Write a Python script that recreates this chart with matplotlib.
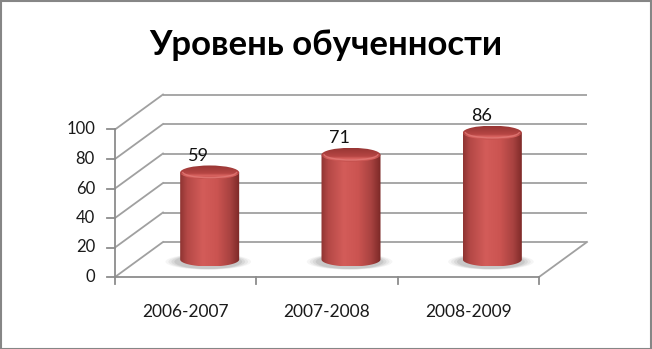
import numpy as np
import matplotlib
matplotlib.use('Agg')
import matplotlib.pyplot as plt
from matplotlib.patches import Ellipse, Polygon, Rectangle, Arc
from matplotlib.colors import LinearSegmentedColormap
from matplotlib.transforms import offset_copy

categories = ['2006-2007', '2007-2008', '2008-2009']
values = [59, 71, 86]
y_ticks = [0, 20, 40, 60, 80, 100]
y_tick_labels = ['0', '20', '40', '60', '80', '100']
title = 'Уровень обученности'

FONT = ['Lato', 'Open Sans', 'DejaVu Sans']

fig = plt.figure(figsize=(6.52, 3.49), dpi=100)
fig.patch.set_facecolor('white')
# axes = middle depth plane of the 3D box
ax = fig.add_axes([139 / 652, (349 - 259.5) / 349, 424 / 652, 147.5 / 349])
ax.set_xlim(-0.5, len(categories) - 0.5)
ax.set_ylim(0, 100)
ax.axis('off')

# depth half-vector (pixels -> data units)
DX, DY = 24, 17.5
inv = ax.transData.inverted()
o = ax.transData.transform((0, 0))
ddx, ddy = inv.transform(o + np.array([DX, DY])) - inv.transform(o)
sx, sy = ddx / DX, ddy / DY  # data units per pixel

x0, x1 = -0.5, len(categories) - 0.5
gc = '#a0a0a0'
ac = '#8c8c8c'
lw = 1.3

# back wall gridlines and left side wall lines
for v in y_ticks:
    ax.plot([x0 + ddx, x1 + ddx], [v + ddy, v + ddy], color=gc, lw=lw, clip_on=False, zorder=1,
            solid_capstyle='butt')
    ax.plot([x0 - ddx, x0 + ddx], [v - ddy, v + ddy], color=gc, lw=lw, clip_on=False, zorder=1)
# floor right edge
ax.plot([x1 - ddx, x1 + ddx], [0 - ddy, 0 + ddy], color=gc, lw=lw, clip_on=False, zorder=1)

# front axes
ax.plot([x0 - ddx, x0 - ddx], [0 - ddy, 100 - ddy], color=ac, lw=lw, clip_on=False, zorder=5)
ax.plot([x0 - ddx, x1 - ddx], [0 - ddy, 0 - ddy], color=ac, lw=lw, clip_on=False, zorder=5)
for v in y_ticks:
    ax.plot([x0 - ddx - 8 * sx, x0 - ddx], [v - ddy, v - ddy], color=ac, lw=lw, clip_on=False, zorder=5)
for b in np.arange(len(categories) + 1) - 0.5:
    ax.plot([b - ddx, b - ddx], [0 - ddy, 0 - ddy - 7 * sy], color=ac, lw=lw, clip_on=False, zorder=5)

# tick labels
ylab_tr = offset_copy(ax.transData, fig=fig, x=-DX - 20, y=-DY, units='dots')
for v, t in zip(y_ticks, y_tick_labels):
    ax.text(x0, v, t, transform=ylab_tr, ha='right', va='center', fontsize=12,
            family=FONT, color='#1a1a1a')
xlab_tr = offset_copy(ax.transData, fig=fig, x=-DX, y=-DY - 35, units='dots')
for i, c in enumerate(categories):
    ax.text(i, 0, c, transform=xlab_tr, ha='center', va='center', fontsize=12.5,
            family=FONT, color='#1a1a1a')

# cylinders
body_cmap = LinearSegmentedColormap.from_list('body', [
    (0.0, '#8e3432'), (0.12, '#b44846'), (0.38, '#d35c59'), (0.62, '#cb5451'),
    (0.84, '#a84240'), (1.0, '#7a2826')])
top_cmap = LinearSegmentedColormap.from_list('top', [
    (0.0, '#c24f4c'), (0.25, '#da6461'), (0.4, '#b74644'), (1.0, '#973634')])

w = 0.4175
eh = 14 * sy
t = np.linspace(np.pi, 2 * np.pi, 60)
grad_h = np.linspace(0, 1, 256).reshape(1, -1)
grad_v = np.linspace(0, 1, 128).reshape(-1, 1) * np.ones((1, 64))

for i, v in enumerate(values):
    # soft shadow
    for k, a in zip([1.45, 1.35, 1.25, 1.15], [0.06, 0.08, 0.1, 0.12]):
        sh = Ellipse((i - 0.01, -1.5), w * k, eh * (0.7 + 0.3 * k), facecolor='#555555',
                     edgecolor='none', alpha=a, zorder=2, clip_on=False)
        ax.add_patch(sh)
    # body
    xs = i + w / 2 * np.cos(t)
    ys = eh / 2 * np.sin(t)
    pts = np.column_stack([np.r_[xs, i + w / 2, i - w / 2], np.r_[ys, v, v]])
    clip = Polygon(pts, closed=True, transform=ax.transData, facecolor='none', edgecolor='none')
    ax.add_patch(clip)
    im = ax.imshow(grad_h, cmap=body_cmap, extent=[i - w / 2, i + w / 2, -eh / 2, v],
                   aspect='auto', zorder=3, interpolation='bilinear')
    im.set_clip_path(clip)
    im.set_clip_box(fig.bbox)
    # top
    top = Ellipse((i, v), w, eh, facecolor='none', edgecolor='none', transform=ax.transData)
    ax.add_patch(top)
    im2 = ax.imshow(grad_v, cmap=top_cmap, extent=[i - w / 2, i + w / 2, v - eh / 2, v + eh / 2],
                    aspect='auto', zorder=4, interpolation='bilinear', origin='lower')
    im2.set_clip_path(top)
    im2.set_clip_box(fig.bbox)
    ax.add_patch(Arc((i, v + 0.5), w * 0.92, eh * 0.85, theta1=200, theta2=340,
                     color='#e27a77', lw=1.0, zorder=4.5, alpha=0.8, clip_on=False))
    # value label
    ax.annotate(str(v), (i, v + eh / 2), xytext=(-8, 1), textcoords='offset points',
                ha='center', va='bottom', fontsize=13, family=FONT, color='#111111',
                zorder=6, annotation_clip=False)

ax.set_xlim(-0.5, len(categories) - 0.5)
ax.set_ylim(0, 100)

fig.text(0.5, 1 - 45 / 349, title, ha='center', va='center', fontsize=25,
         fontweight='bold', family=FONT, color='#000000')

fig.patches.append(Rectangle((0.5 / 652, 0.5 / 349), 1 - 2 / 652, 1 - 1.5 / 349,
                             transform=fig.transFigure, facecolor='none',
                             edgecolor='#868686', lw=1.5, zorder=10))

fig.savefig('out.png', dpi=100, facecolor='white')
